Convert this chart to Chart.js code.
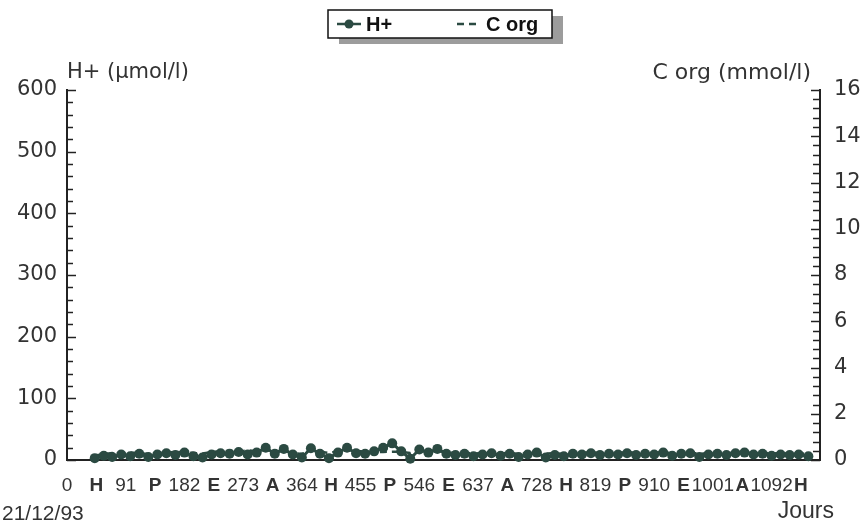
<!DOCTYPE html>
<html>
<head>
<meta charset="utf-8">
<script src="https://cdn.jsdelivr.net/npm/chart.js@4.4.0/dist/chart.umd.min.js"></script>
<style>
  html, body { margin: 0; padding: 0; background: #fff; }
</style>
</head>
<body>
<canvas id="lineChartCanvas" width="864" height="527"></canvas>
<script>
// sampling days since 21/12/93
const days = [
  43, 57, 70, 84, 98, 112, 126, 140, 154, 168,
  182, 196, 210, 224, 238, 252, 266, 280, 294, 308,
  322, 336, 350, 364, 378, 392, 406, 420, 434, 448,
  462, 476, 490, 504, 518, 532, 546, 560, 574, 588,
  602, 616, 630, 644, 658, 672, 686, 700, 714, 728,
  742, 756, 770, 784, 798, 812, 826, 840, 854, 868,
  882, 896, 910, 924, 938, 952, 966, 980, 994, 1008,
  1022, 1036, 1050, 1064, 1078, 1092, 1106, 1120, 1134, 1149
];
// H+ (µmol/l)
const hPlus = [
  3, 7, 5, 9, 6, 10, 5, 9, 11, 8,
  12, 6, 4, 9, 11, 10, 13, 9, 12, 20,
  10, 18, 9, 4, 19, 10, 3, 12, 20, 11,
  10, 14, 20, 27, 14, 2, 17, 12, 18, 10,
  8, 10, 6, 9, 11, 7, 10, 5, 9, 12,
  4, 8, 6, 10, 9, 11, 8, 10, 9, 11,
  8, 10, 9, 12, 7, 10, 11, 5, 9, 10,
  8, 11, 12, 9, 10, 7, 9, 8, 9, 6
];
// C org (mmol/l)
const cOrg = [
  0.20, 0.25, 0.30, 0.28, 0.32, 0.30, 0.26, 0.34, 0.30, 0.36,
  0.33, 0.30, 0.28, 0.35, 0.38, 0.40, 0.36, 0.42, 0.38, 0.45,
  0.40, 0.38, 0.30, 0.26, 0.42, 0.36, 0.30, 0.38, 0.44, 0.40,
  0.36, 0.34, 0.35, 0.36, 0.35, 0.30, 0.42, 0.38, 0.40, 0.35,
  0.30, 0.32, 0.28, 0.30, 0.34, 0.28, 0.32, 0.25, 0.30, 0.35,
  0.28, 0.30, 0.26, 0.32, 0.30, 0.34, 0.30, 0.32, 0.30, 0.35,
  0.30, 0.32, 0.30, 0.36, 0.28, 0.32, 0.34, 0.26, 0.30, 0.32,
  0.28, 0.33, 0.35, 0.30, 0.32, 0.28, 0.30, 0.28, 0.30, 0.25
];
const dayTicks = [0, 91, 182, 273, 364, 455, 546, 637, 728, 819, 910, 1001, 1092];
const seasonLabels = ["H", "P", "E", "A", "H", "P", "E", "A", "H", "P", "E", "A", "H"];

const seriesColor = "#2b4a42";
const axisColor = "#222";
const textColor = "#333";
const sans = "'Liberation Sans', Arial, sans-serif";
const wide = "'DejaVu Sans', sans-serif";

const decor = {
  id: "decor",
  afterDraw(chart) {
    const ctx = chart.ctx;
    const area = chart.chartArea;
    const y = chart.scales.y;
    const y1 = chart.scales.y1;
    ctx.save();
    ctx.strokeStyle = axisColor;
    ctx.lineWidth = 1.5;
    // inward ticks, left axis
    for (let v = 0; v <= 600; v += 20) {
      const p = Math.round(y.getPixelForValue(v)) + 0.5;
      const len = v % 100 === 0 ? 9 : 6;
      ctx.beginPath();
      ctx.moveTo(area.left, p);
      ctx.lineTo(area.left + len, p);
      ctx.stroke();
    }
    // inward ticks, right axis
    for (let i = 0; i <= 40; i++) {
      const v = i * 0.4;
      const p = Math.round(y1.getPixelForValue(v)) + 0.5;
      const len = i % 5 === 0 ? 9 : 7;
      ctx.beginPath();
      ctx.moveTo(area.right, p);
      ctx.lineTo(area.right - len, p);
      ctx.stroke();
    }

    // axis titles
    ctx.fillStyle = textColor;
    ctx.font = "21px " + wide;
    ctx.textBaseline = "middle";
    ctx.textAlign = "left";
    ctx.fillText("H+ (µmol/l)", 67, 73);
    ctx.font = "22px " + wide;
    ctx.textAlign = "right";
    ctx.fillText("C org (mmol/l)", 811, 73);
    ctx.font = "21px " + sans;
    ctx.textAlign = "left";
    ctx.fillText("21/12/93", 2, 514);
    ctx.font = "23px " + sans;
    ctx.textAlign = "right";
    ctx.fillText("Jours", 834, 512);

    // legend box with shadow
    const bx = 328, by = 10, bw = 224, bh = 28;
    ctx.fillStyle = "#9c9c9c";
    ctx.fillRect(bx + 11, by + 6, bw, bh);
    ctx.fillStyle = "#fff";
    ctx.fillRect(bx, by, bw, bh);
    ctx.strokeStyle = "#111";
    ctx.lineWidth = 1.5;
    ctx.strokeRect(bx, by, bw, bh);

    const ly = by + bh / 2;
    const ds = chart.data.datasets;
    ctx.strokeStyle = seriesColor;
    ctx.lineWidth = 2.5;
    ctx.beginPath();
    ctx.moveTo(337, ly);
    ctx.lineTo(361, ly);
    ctx.stroke();
    ctx.fillStyle = seriesColor;
    ctx.beginPath();
    ctx.arc(349, ly, 4.5, 0, Math.PI * 2);
    ctx.fill();
    ctx.setLineDash([7, 5]);
    ctx.beginPath();
    ctx.moveTo(457, ly);
    ctx.lineTo(480, ly);
    ctx.stroke();
    ctx.setLineDash([]);
    ctx.fillStyle = "#111";
    ctx.font = "bold 20px " + sans;
    ctx.textAlign = "left";
    ctx.fillText(ds[0].label, 366, ly + 1);
    ctx.fillText(ds[1].label, 486, ly + 1);
    ctx.restore();
  }
};

new Chart(document.getElementById("lineChartCanvas"), {
  type: "line",
  data: {
    datasets: [
      {
        label: "H+",
        data: days.map((d, i) => ({ x: d, y: hPlus[i] })),
        yAxisID: "y",
        borderColor: seriesColor,
        backgroundColor: seriesColor,
        borderWidth: 3,
        pointRadius: 5,
        pointBackgroundColor: seriesColor,
        pointBorderWidth: 0,
        tension: 0,
        clip: 8
      },
      {
        label: "C org",
        data: days.map((d, i) => ({ x: d, y: cOrg[i] })),
        yAxisID: "y1",
        borderColor: seriesColor,
        borderWidth: 2.5,
        borderDash: [7, 5],
        pointRadius: 0,
        tension: 0,
        clip: 8
      }
    ]
  },
  options: {
    responsive: false,
    animation: false,
    layout: { padding: { top: 90, left: 0, right: 0, bottom: 0 } },
    plugins: { legend: { display: false }, tooltip: { enabled: false } },
    scales: {
      x: {
        type: "linear",
        min: 0,
        max: 1167,
        grid: { display: false, drawTicks: false },
        border: { display: true, color: axisColor, width: 2 },
        afterBuildTicks(scale) {
          const t = [];
          dayTicks.forEach((d) => {
            t.push({ value: d });
            t.push({ value: d + 45.5 });
          });
          scale.ticks = t;
        },
        afterFit(scale) { scale.height = 67; },
        ticks: {
          autoSkip: false,
          maxRotation: 0,
          padding: 14,
          color: textColor,
          font: (c) => ({
            family: sans,
            size: 19,
            weight: c.tick && dayTicks.includes(c.tick.value) ? "normal" : "bold"
          }),
          callback: (value) => {
            const i = dayTicks.indexOf(value);
            if (i >= 0) return String(value);
            return seasonLabels[dayTicks.indexOf(value - 45.5)];
          }
        }
      },
      y: {
        position: "left",
        min: 0,
        max: 600,
        grid: { display: false, drawTicks: false },
        border: { display: true, color: axisColor, width: 2 },
        afterFit(scale) { scale.width = 67; },
        ticks: { stepSize: 100, padding: 10, color: textColor, font: { family: wide, size: 21 } }
      },
      y1: {
        position: "right",
        min: 0,
        max: 16,
        grid: { display: false, drawTicks: false },
        border: { display: true, color: axisColor, width: 2 },
        afterFit(scale) { scale.width = 44; },
        ticks: { stepSize: 2, padding: 14, color: textColor, font: { family: wide, size: 21 } }
      }
    }
  },
  plugins: [decor]
});
</script>
</body>
</html>
